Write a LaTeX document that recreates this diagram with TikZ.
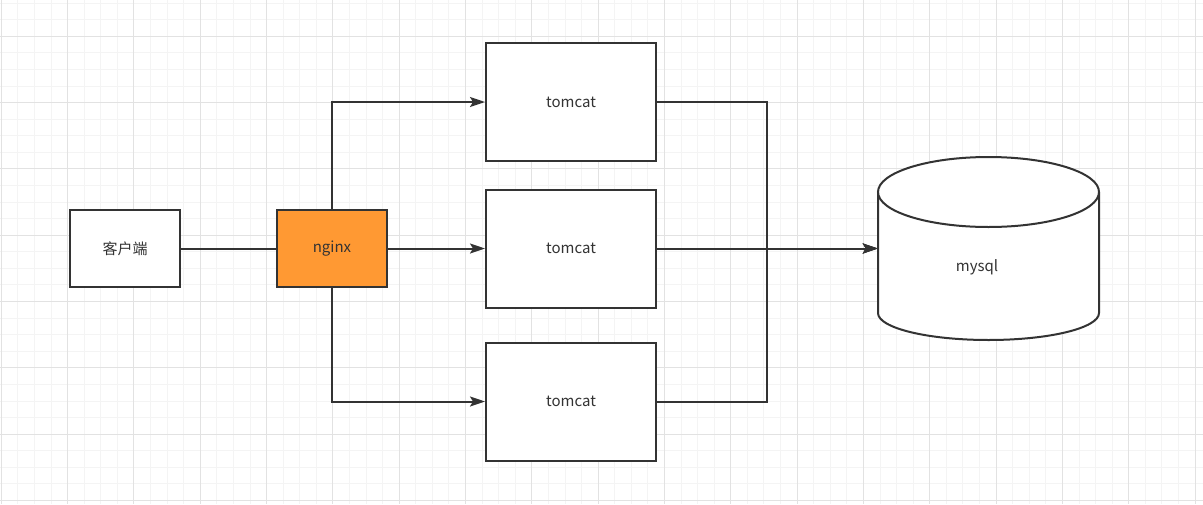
\documentclass[tikz,border=0pt]{standalone}
\usepackage{fontspec}
\setmainfont{Noto Sans CJK SC}
\definecolor{gridminor}{RGB}{244,244,244}
\definecolor{gridmajor}{RGB}{226,226,226}
\definecolor{linedark}{RGB}{51,51,51}
\definecolor{nginxorange}{RGB}{255,153,51}
\usetikzlibrary{arrows.meta,positioning}

\begin{document}
\begin{tikzpicture}[x=1pt,y=-1pt,
    box/.style={draw=linedark, line width=2pt, fill=white, text=linedark,
                font=\fontsize{15}{17}\selectfont},
    link/.style={draw=linedark, line width=2pt,
                 -{Stealth[length=15pt,width=10pt,inset=3pt]}},
    cyl/.style={draw=linedark, line width=2pt, fill=white}]
  \useasboundingbox (0,0) rectangle (1203,504);
  \fill[white] (0,0) rectangle (1203,504);
  % grid
  \foreach \i in {0,...,72}
    \draw[gridminor] ({1+16.58*\i},0) -- ++(0,504);
  \foreach \j in {0,...,30}
    \draw[gridminor] (0,{2.8+16.58*\j}) -- ++(1203,0);
  \foreach \i in {0,...,18}
    \draw[gridmajor] ({1+66.32*\i},0) -- ++(0,504);
  \foreach \j in {0,...,7}
    \draw[gridmajor] (0,{36+66.32*\j}) -- ++(1203,0);

  \node[box, minimum width=110, minimum height=77] (client) at (125,248.5) {客户端};
  \node[box, fill=nginxorange, minimum width=110, minimum height=77] (nginx) at (332,248.5) {nginx};
  \node[box, minimum width=170, minimum height=118] (tc1) at (571,102) {tomcat};
  \node[box, minimum width=170, minimum height=118] (tc2) at (571,248.5) {tomcat};
  \node[box, minimum width=170, minimum height=118] (tc3) at (571,401.5) {tomcat};

  % database
  \node[minimum width=221, minimum height=182, inner sep=0] (mysql) at (988.5,248.5) {};
  \draw[cyl] (878,192) -- (878,313) arc[start angle=180, end angle=0, x radius=110.5, y radius=27] -- (1099,192);
  \draw[cyl] (988.5,192) ellipse[x radius=110.5, y radius=35];
  \node[text=linedark, font=\fontsize{15}{17}\selectfont] (mysqllabel) at (977,267) {mysql};

  \coordinate (bus) at (767,248.5);
  \draw[draw=linedark, line width=2pt] (client) -- (nginx);
  \draw[link] (nginx.north) |- (tc1.west);
  \draw[link] (nginx) -- (tc2);
  \draw[link] (nginx.south) |- (tc3.west);
  \draw[link] (tc1.east) -| (bus) -- (mysql.west);
  \draw[link] (tc2.east) -- (mysql.west);
  \draw[link] (tc3.east) -| (bus) -- (mysql.west);
\end{tikzpicture}
\end{document}
